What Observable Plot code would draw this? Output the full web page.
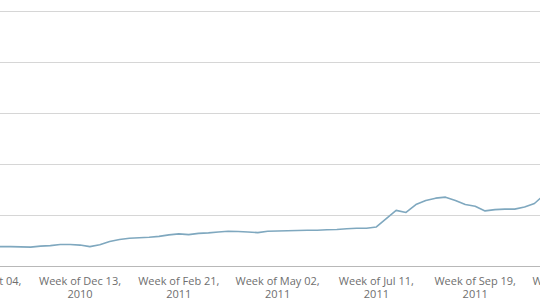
<!DOCTYPE html>
<html>
<head>
<meta charset="utf-8">
<script src="https://cdn.jsdelivr.net/npm/d3@7"></script>
<script src="https://cdn.jsdelivr.net/npm/@observablehq/plot@0.6"></script>
<style>
  html, body { margin: 0; padding: 0; background: #fff; }
  #chart svg { display: block; overflow: hidden; }
</style>
</head>
<body>
<div id="chart"></div>
<script>
const weeks = [
  "2010-10-04","2010-10-11","2010-10-18","2010-10-25","2010-11-01","2010-11-08","2010-11-15","2010-11-22","2010-11-29","2010-12-06",
  "2010-12-13","2010-12-20","2010-12-27","2011-01-03","2011-01-10","2011-01-17","2011-01-24","2011-01-31","2011-02-07","2011-02-14",
  "2011-02-21","2011-02-28","2011-03-07","2011-03-14","2011-03-21","2011-03-28","2011-04-04","2011-04-11","2011-04-18","2011-04-25",
  "2011-05-02","2011-05-09","2011-05-16","2011-05-23","2011-05-30","2011-06-06","2011-06-13","2011-06-20","2011-06-27","2011-07-04",
  "2011-07-11","2011-07-18","2011-07-25","2011-08-01","2011-08-08","2011-08-15","2011-08-22","2011-08-29","2011-09-05","2011-09-12",
  "2011-09-19","2011-09-26","2011-10-03","2011-10-10","2011-10-17","2011-10-24","2011-10-31","2011-11-07","2011-11-14"
];
const values = [
  7.8, 7.8, 7.8, 7.8, 7.7, 7.6, 8.0, 8.2, 8.6, 8.6,
  8.4, 7.8, 8.5, 9.8, 10.6, 11.1, 11.3, 11.5, 11.8, 12.4,
  12.8, 12.5, 13.0, 13.2, 13.5, 13.8, 13.7, 13.5, 13.3, 13.8,
  13.9, 14.0, 14.1, 14.2, 14.2, 14.4, 14.5, 14.8, 15.0, 15.0,
  15.5, 18.8, 22.0, 21.2, 24.3, 25.9, 26.8, 27.2, 25.9, 24.3,
  23.6, 21.8, 22.3, 22.5, 22.5, 23.3, 24.7, 28.2, 30.6
];
const tickWeeks = ["2010-10-04","2010-12-13","2011-02-21","2011-05-02","2011-07-11","2011-09-19","2011-11-28"];
const tickLabels = ["Week of Oct 04,\n2010","Week of Dec 13,\n2010","Week of Feb 21,\n2011","Week of May 02,\n2011","Week of Jul 11,\n2011","Week of Sep 19,\n2011","Week of Nov 28,\n2011"];
const gridValues = [20, 40, 60, 80, 100];

const series = weeks.map((w, i) => ({date: new Date(w), value: values[i]}));
const ticks = tickWeeks.map((w, i) => ({date: new Date(w), label: tickLabels[i]}));

const chart = Plot.plot({
  width: 540,
  height: 304,
  marginLeft: 0,
  marginRight: 0,
  marginTop: 11,
  marginBottom: 38,
  style: {background: "#fff", fontFamily: "'Open Sans', sans-serif"},
  x: {type: "utc", domain: [new Date("2010-10-17T16:00Z"), new Date("2011-11-04T07:00Z")], axis: null},
  y: {domain: [0, 100], axis: null},
  marks: [
    Plot.ruleY(gridValues, {stroke: "#d6d6d6", strokeWidth: 1.2}),
    Plot.ruleY([0], {stroke: "#b8b8b8", strokeWidth: 1.2}),
    Plot.line(series, {x: "date", y: "value", stroke: "#7fa8bf", strokeWidth: 1.6, curve: "linear", clip: true}),
    Plot.text(ticks, {x: "date", y: 0, text: "label", dy: 9, lineAnchor: "top", lineHeight: 1.2, fontSize: 11, fill: "#6e6e6e", textAnchor: "middle"})
  ]
});
document.getElementById("chart").appendChild(chart);
</script>
</body>
</html>
